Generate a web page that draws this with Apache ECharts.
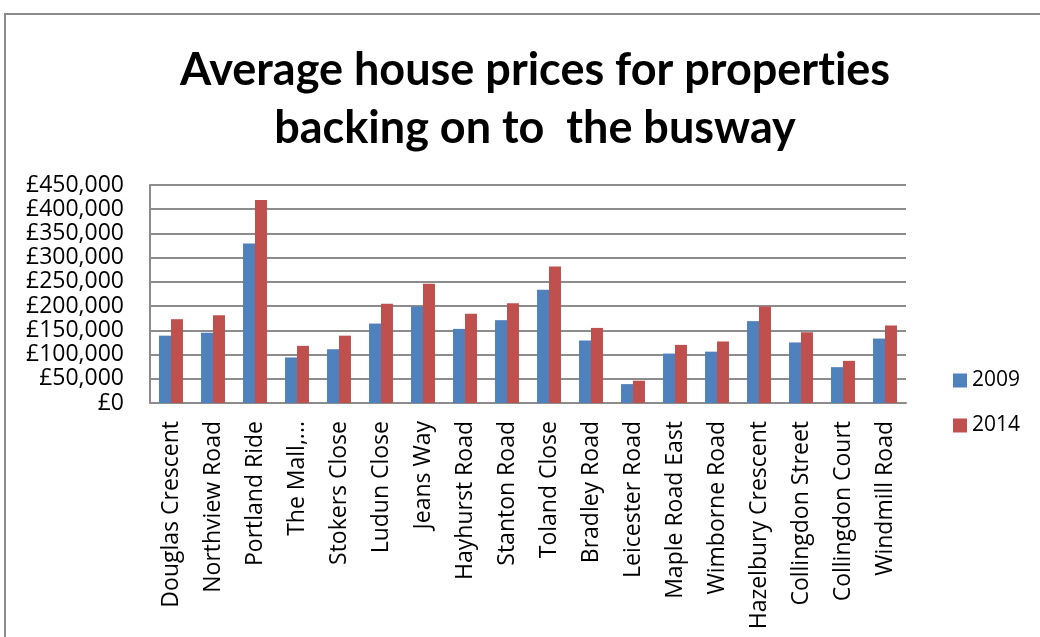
<!DOCTYPE html>
<html>
<head>
<meta charset="utf-8">
<script src="https://cdn.jsdelivr.net/npm/echarts@6/dist/echarts.min.js"></script>
<style>
  html, body { margin: 0; padding: 0; background: #fff; }
  #frame { position: absolute; left: 4px; top: 13px; width: 1040px; height: 640px;
           border-left: 2px solid #8c8c8c; border-top: 2px solid #8c8c8c; }
  #chart { position: absolute; left: 0; top: 0; width: 1040px; height: 637px; }
</style>
</head>
<body>
<div id="frame"></div>
<div id="chart"></div>
<script>
var streets = ['Douglas Crescent', 'Northview Road', 'Portland Ride', 'The Mall,...', 'Stokers Close',
    'Ludun Close', 'Jeans Way', 'Hayhurst Road', 'Stanton Road', 'Toland Close', 'Bradley Road',
    'Leicester Road', 'Maple Road East', 'Wimborne Road', 'Hazelbury Crescent', 'Collingdon Street',
    'Collingdon Court', 'Windmill Road'];
var prices2009 = [139000, 145000, 329000, 94000, 111000, 164000, 199000, 153000, 171000, 234000,
    129000, 39000, 102000, 106000, 169000, 125000, 74000, 133000];
var prices2014 = [173000, 181000, 419000, 118000, 139000, 205000, 246000, 184000, 206000, 282000,
    155000, 46000, 120000, 127000, 199000, 146000, 87000, 160000];

var chart = echarts.init(document.getElementById('chart'));

// pounds with thousands separators
function pounds(v) {
    return '£' + v.toLocaleString('en-GB');
}

var titleFont = {
    fontFamily: 'Lato',
    fontWeight: 'bold',
    fontSize: 45,
    lineHeight: 58,
    color: '#000'
};

var option = {
    animation: false,
    title: {
        // the "t" is its own rich fragment so Lato's "ti" ligature is not used
        text: 'Average house prices for proper{t|t}ies\nbacking on to  the busway',
        left: 530,
        textAlign: 'center',
        top: 36,
        textStyle: Object.assign({ rich: { t: titleFont } }, titleFont)
    },
    legend: {
        orient: 'vertical',
        left: 948,
        top: 365,
        itemWidth: 14,
        itemHeight: 14,
        itemGap: 24,
        icon: 'rect',
        textStyle: { fontFamily: 'Open Sans', fontSize: 21, color: '#000' },
        data: ['2009', '2014']
    },
    grid: {
        left: 150,
        top: 185,
        width: 756,
        height: 218,
        containLabel: false
    },
    xAxis: {
        type: 'category',
        data: streets,
        axisLine: { lineStyle: { color: '#8c8c8c', width: 2 } },
        axisTick: { show: false },
        axisLabel: {
            rotate: 90,
            interval: 0,
            margin: 18,
            fontFamily: 'Open Sans',
            fontSize: 23,
            color: '#000'
        }
    },
    yAxis: {
        type: 'value',
        min: 0,
        max: 450000,
        interval: 50000,
        axisLine: { show: true, lineStyle: { color: '#8c8c8c', width: 2 } },
        axisTick: { show: false },
        splitLine: { lineStyle: { color: '#8c8c8c', width: 2 } },
        axisLabel: {
            formatter: pounds,
            margin: 26,
            fontFamily: 'Open Sans',
            fontSize: 23,
            color: '#000'
        }
    },
    series: [
        {
            name: '2009',
            type: 'bar',
            data: prices2009,
            barGap: '0%',
            barCategoryGap: '43%',
            itemStyle: { color: '#4f81bd' }
        },
        {
            name: '2014',
            type: 'bar',
            data: prices2014,
            itemStyle: { color: '#c0504d' }
        }
    ]
};

chart.setOption(option);
</script>
</body>
</html>
